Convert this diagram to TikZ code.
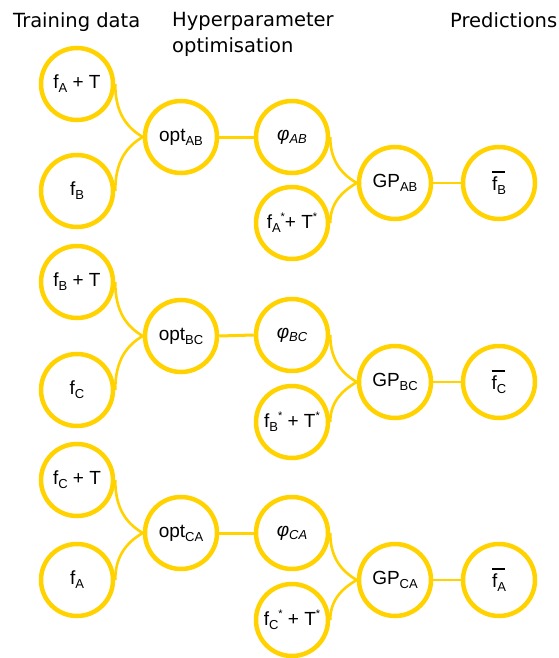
\documentclass[tikz,border=0pt]{standalone}
\usepackage{fontspec}
\setmainfont{Liberation Sans}
\newfontfamily\headfont{DejaVu Sans}
\definecolor{gold}{RGB}{255,210,0}
\tikzset{
  circ/.style={circle, draw=gold, line width=4.5pt, minimum size=72pt, inner sep=0pt, font=\fontsize{19}{19}\selectfont},
  link/.style={draw=gold, line width=2.6pt},
  hlink/.style={draw=gold, line width=3pt},
  head/.style={anchor=base west, inner sep=0pt, font=\headfont\fontsize{19.5}{19.5}\selectfont}
}
\newcommand\sbs[1]{\raisebox{-4pt}{\fontsize{13}{13}\selectfont #1}}
\newcommand\isbs[1]{\raisebox{-3pt}{\fontsize{13}{13}\selectfont\itshape #1}}
\newcommand\sps{\raisebox{8pt}{\fontsize{11}{11}\selectfont *}}
\newcommand\fbar{\makebox[0pt][l]{\raisebox{18pt}{\rule{13pt}{1.3pt}}}f}
\begin{document}
\begin{tikzpicture}[x=1pt,y=-1pt]
\useasboundingbox (0,0) rectangle (559,658);
\node[head] (h1) at (13,28) {Training data};
\node[head] (h2) at (172,27) {Hyperparameter};
\node[head] (h3) at (172,53) {optimisation};
\node[head] (h4) at (450,28) {Predictions};

% block 1
\node[circ] (ti1) at (77,84) {f\sbs{A} + T};
\node[circ] (bi1) at (77,191) {f\sbs{B}};
\node[circ] (op1) at (181,137) {opt\sbs{AB}};
\node[circ] (ph1) at (292,137) {\itshape φ\isbs{AB}};
\node[circ] (fs1) at (292,223) {f\sbs{A}\sps{}+ T\sps};
\node[circ] (gp1) at (395,183) {GP\sbs{AB}};
\node[circ] (fb1) at (499,183) {\fbar\sbs{B}};

% block 2
\node[circ] (ti2) at (77,282) {f\sbs{B} + T};
\node[circ] (bi2) at (77,390) {f\sbs{C}};
\node[circ] (op2) at (181,336) {opt\sbs{BC}};
\node[circ] (ph2) at (292,335) {\itshape φ\isbs{BC}};
\node[circ] (fs2) at (292,422) {f\sbs{B}\sps{} + T\sps};
\node[circ] (gp2) at (395,382) {GP\sbs{BC}};
\node[circ] (fb2) at (499,382) {\fbar\sbs{C}};

% block 3
\node[circ] (ti3) at (77,480) {f\sbs{C} + T};
\node[circ] (bi3) at (77,580) {f\sbs{A}};
\node[circ] (op3) at (181,533) {opt\sbs{CA}};
\node[circ] (ph3) at (292,533) {\itshape φ\isbs{CA}};
\node[circ] (fs3) at (292,620) {f\sbs{C}\sps{} + T\sps};
\node[circ] (gp3) at (395,580) {GP\sbs{CA}};
\node[circ] (fb3) at (499,580) {\fbar\sbs{A}};

\foreach \i in {1,2,3}{
  \draw[link] (ti\i.east) to[out=-90,in=150] (op\i.west);
  \draw[link] (bi\i.east) to[out=90,in=-150] (op\i.west);
  \draw[hlink] (op\i.east) -- (ph\i.west);
  \draw[link] (ph\i.east) to[out=-90,in=150] (gp\i.west);
  \draw[link] (fs\i.east) to[out=90,in=-150] (gp\i.west);
  \draw[link] (gp\i.east) -- (fb\i.west);
}
\end{tikzpicture}
\end{document}
